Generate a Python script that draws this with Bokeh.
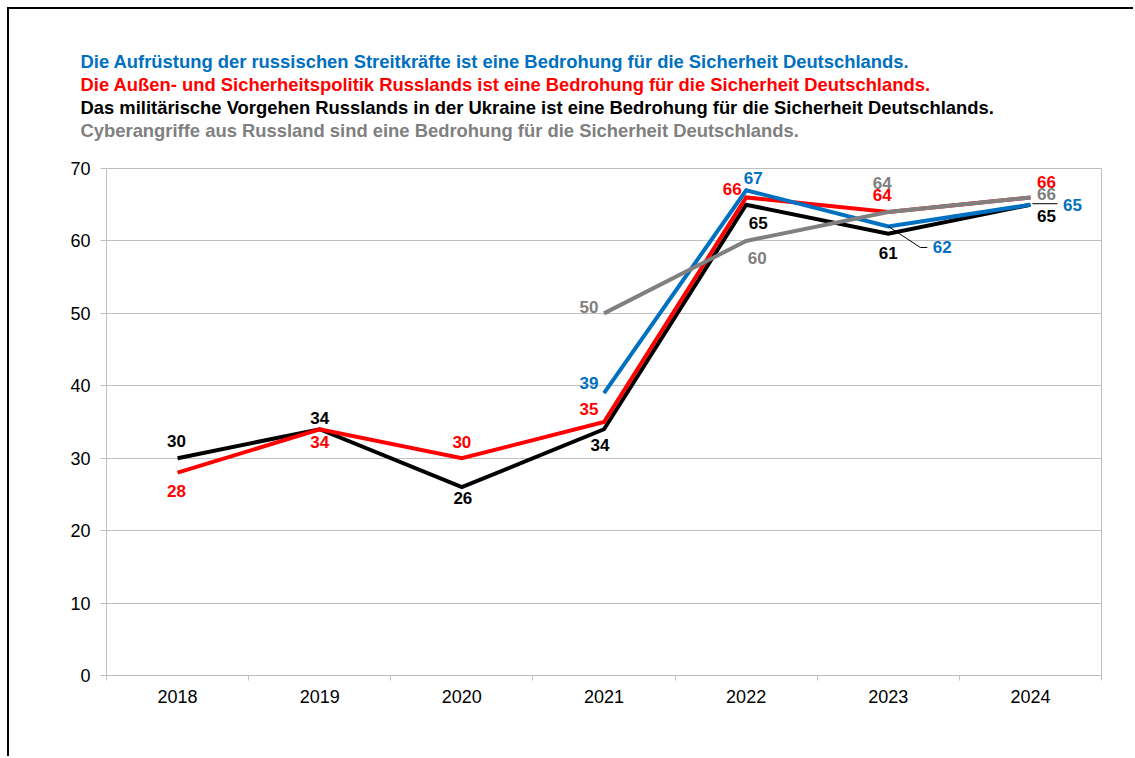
from bokeh.plotting import figure
from bokeh.models import ColumnDataSource, FixedTicker, Title
from bokeh.embed import file_html
from bokeh.resources import INLINE
from bokeh.core.properties import value

# ---------------- data ----------------
years = ["2018", "2019", "2020", "2021", "2022", "2023", "2024"]

blue_years = ["2021", "2022", "2023", "2024"]
blue_vals = [39, 67, 62, 65]

red_years = ["2018", "2019", "2020", "2021", "2022", "2023", "2024"]
red_vals = [28, 34, 30, 35, 66, 64, 66]

black_years = ["2018", "2019", "2020", "2021", "2022", "2023", "2024"]
black_vals = [30, 34, 26, 34, 65, 61, 65]

gray_years = ["2021", "2022", "2023", "2024"]
gray_vals = [50, 60, 64, 66]

titles = [
    "Die Aufrüstung der russischen Streitkräfte ist eine Bedrohung für die Sicherheit Deutschlands.",
    "Die Außen- und Sicherheitspolitik Russlands ist eine Bedrohung für die Sicherheit Deutschlands.",
    "Das militärische Vorgehen Russlands in der Ukraine ist eine Bedrohung für die Sicherheit Deutschlands.",
    "Cyberangriffe aus Russland sind eine Bedrohung für die Sicherheit Deutschlands.",
]

y_ticks = [0, 10, 20, 30, 40, 50, 60, 70]

# ---------------- styles ----------------
BLUE = "#0070C0"
RED = "#FF0000"
BLACK = "#000000"
GRAY = "#808080"
GRID = "#BFBFBF"
FONT = "Liberation Sans"

OFF = 9
W, H = 1135 - OFF, 758 - OFF
ML, MR, MT, MB = 106 - OFF, 34, 168 - OFF, 83
frame_w = W - ML - MR
frame_h = H - MT - MB
PX_X = frame_w / len(years)
PX_Y = frame_h / 70.0

# label pixel offsets (dx right, dy down)
blue_off = [(-15, -10), (7, -12), (54, 21), (42, 0)]
red_off = [(-1, 18), (0, 13), (0, -16), (-15, -13), (-14, -8), (-6, -17), (16, -15)]
black_off = [(-1, -17), (0, -11), (1, 11), (-4, 16), (12, 18), (0, 19), (16, 11)]
gray_off = [(-15, -6), (11, 17), (-6, -29), (16, -3)]

p = figure(width=W, height=H, x_range=(-0.5, len(years) - 0.5), y_range=(0, 70),
           output_backend="svg", toolbar_location=None,
           min_border_left=ML, min_border_right=MR, min_border_top=MT, min_border_bottom=MB,
           background_fill_color="white", border_fill_color="white")
p.styles = {"margin-left": f"{OFF}px", "margin-top": f"{OFF}px",
            "box-shadow": "-2px -2px 0 0 #000000"}

p.outline_line_color = GRID
p.outline_line_width = 1
p.xgrid.grid_line_color = None
p.ygrid.grid_line_color = GRID
p.ygrid.grid_line_width = 1
p.ygrid.ticker = FixedTicker(ticks=y_ticks)

# x axis
p.xaxis.ticker = FixedTicker(ticks=list(range(len(years))),
                             minor_ticks=[i - 0.5 for i in range(len(years) + 1)])
p.xaxis.major_label_overrides = {i: y for i, y in enumerate(years)}
p.xaxis.major_tick_line_color = None
p.xaxis.minor_tick_line_color = GRID
p.xaxis.minor_tick_in = 0
p.xaxis.minor_tick_out = 5
p.xaxis.axis_line_color = GRID
p.xaxis.major_label_text_font = FONT
p.xaxis.major_label_text_font_size = "18px"
p.xaxis.major_label_text_color = "#000000"
p.xaxis.major_label_standoff = 8

# y axis
p.yaxis.ticker = FixedTicker(ticks=y_ticks)
p.yaxis.minor_tick_line_color = None
p.yaxis.major_tick_line_color = GRID
p.yaxis.major_tick_in = 0
p.yaxis.major_tick_out = 6
p.yaxis.axis_line_color = GRID
p.yaxis.major_label_text_font = FONT
p.yaxis.major_label_text_font_size = "18px"
p.yaxis.major_label_text_color = "#000000"
p.yaxis.major_label_standoff = 10

series = [
    (black_years, black_vals, BLACK, black_off),
    (red_years, red_vals, RED, red_off),
    (blue_years, blue_vals, BLUE, blue_off),
    (gray_years, gray_vals, GRAY, gray_off),
]

for yrs, vals, col, off in series:
    xs = [years.index(y) for y in yrs]
    p.line(xs, vals, line_color=col, line_width=4, line_join="miter")

# leader lines for blue labels (2023 and 2024)
def leader(year, v, pts):
    xi = years.index(year)
    return ([xi + dx / PX_X for dx, dy in pts], [v - dy / PX_Y for dx, dy in pts])

lx1, ly1 = leader(blue_years[2], blue_vals[2], [(0, 0), (32, 21), (39, 21)])
lx2, ly2 = leader(blue_years[3], blue_vals[3], [(2, -1), (27, -1)])
p.multi_line([lx1, lx2], [ly1, ly2], line_color="#000000", line_width=1)

for yrs, vals, col, off in series:
    xs = [years.index(y) for y in yrs]
    src = ColumnDataSource(dict(x=xs, y=vals, t=[str(v) for v in vals],
                                dx=[o[0] for o in off], dy=[o[1] for o in off]))
    p.text(x="x", y="y", text="t", x_offset="dx", y_offset="dy", source=src,
           text_color=col, text_font=value(FONT), text_font_size="17px",
           text_font_style="bold", text_align="center", text_baseline="middle")

# spacer between the titles and the frame
p.add_layout(Title(text=" ", text_font=FONT, text_font_size="23px", standoff=0), "above")

# titles (stacked above the frame; first added sits closest to the frame)
title_cols = [BLUE, RED, BLACK, GRAY]
pairs = list(zip(titles, title_cols))
for t, c in reversed(pairs):
    tt = Title(text=t, text_color=c, text_font=FONT, text_font_size="18.4px",
               text_font_style="bold", align="left", offset=80 - 106, standoff=0)
    p.add_layout(tt, "above")

open("out.html", "w").write(file_html(p, INLINE))
